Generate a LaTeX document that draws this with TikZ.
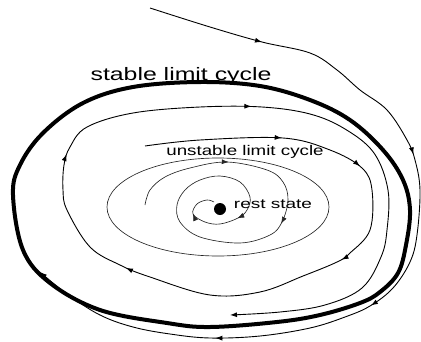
\documentclass[tikz,border=0pt]{standalone}
\usepackage{fontspec}
\setmainfont{Liberation Sans}
\usepackage{tikz}
\usetikzlibrary{arrows.meta, decorations.markings}

\begin{document}
\begin{tikzpicture}[
    x=1pt, y=-1pt,
    traj/.style={line width=0.9pt},
    fine/.style={line width=0.65pt, black!85},
    cycle line/.style={line width=4pt},
    tip/.style={postaction={decorate, decoration={markings,
        mark=at position #1 with {\arrow{Latex[length=7pt,width=5pt]}}}}},
    lbl/.style={anchor=base, inner sep=0pt, xscale=1.38},
]
\useasboundingbox (0,0) rectangle (421,341);

% ---- stable limit cycle ----
\draw[cycle line] plot[smooth cycle, tension=0.6] coordinates {
    (13,195) (20,165) (43,133) (83,103) (133,87) (200,82) (260,86) (310,100)
    (350,120) (383,150) (403,180) (410,210) (406,245) (398,273) (380,292)
    (360,303) (320,315) (277,322) (210,327) (167,323) (100,310) (50,283) (23,250)};
\node[lbl, font=\fontsize{18}{20}\selectfont] (stab) at (181,80) {stable limit cycle};

% ---- unstable limit cycle ----
\draw[fine] (218,207) ellipse [x radius=111pt, y radius=49pt];
\node[lbl, xscale=0.97, font=\fontsize{14}{16}\selectfont] (unst) at (245,155) {unstable limit cycle};

% ---- rest state ----
\node[circle, fill, inner sep=0pt, minimum size=12pt] (rest) at (220,209) {};
\node[lbl, xscale=1.02, font=\fontsize{13.5}{15}\selectfont] (restlbl) at (273,208) {rest state};

% trajectory coming in from outside
\draw[traj, tip=0.14, tip=0.376, tip=0.578, tip=0.77, -{Latex[length=7pt,width=5pt]}]
    plot[smooth, tension=0.6] coordinates {
    (150,8) (210,27) (262,42) (310,53) (337,70) (360,90) (387,110) (407,140)
    (415,160) (420,190) (417,235) (410,262) (393,288) (370,306) (345,317)
    (310,328) (260,336) (210,338) (170,334) (133,327) (100,315) (67,294) (40,272)};

% trajectory between the two cycles
\draw[traj, tip=0.104, tip=0.168, tip=0.251, tip=0.423, tip=0.531, tip=0.684,
      -{Latex[length=7pt,width=5pt]}]
    plot[smooth, tension=0.6] coordinates {
    (145,146) (200,140) (283,138) (330,150) (362,168) (372,190) (370,230)
    (350,253) (337,262) (303,276) (260,292) (210,295) (150,277) (120,265)
    (90,247) (67,210) (63,190) (64,165) (70,147) (87,127) (133,113) (200,107)
    (262,107) (310,114) (345,129) (374,153) (388,190) (387,230) (381,257)
    (362,288) (325,305) (280,312) (230,315)};

% spiral into the rest state
\draw[fine, tip=0.19, tip=0.383, tip=0.855, tip=0.945]
    plot[smooth, tension=0.6] coordinates {
    (145,205) (150,190) (165,177) (190,168) (227,162) (267,170) (283,182)
    (288,200) (282,222) (270,235) (240,243) (200,237) (180,222) (177,205)
    (185,190) (200,180) (220,176) (240,182) (250,197) (247,210) (238,218)
    (220,224) (205,222) (193,214) (197,204) (207,200) (214,202)};

\end{tikzpicture}
\end{document}
